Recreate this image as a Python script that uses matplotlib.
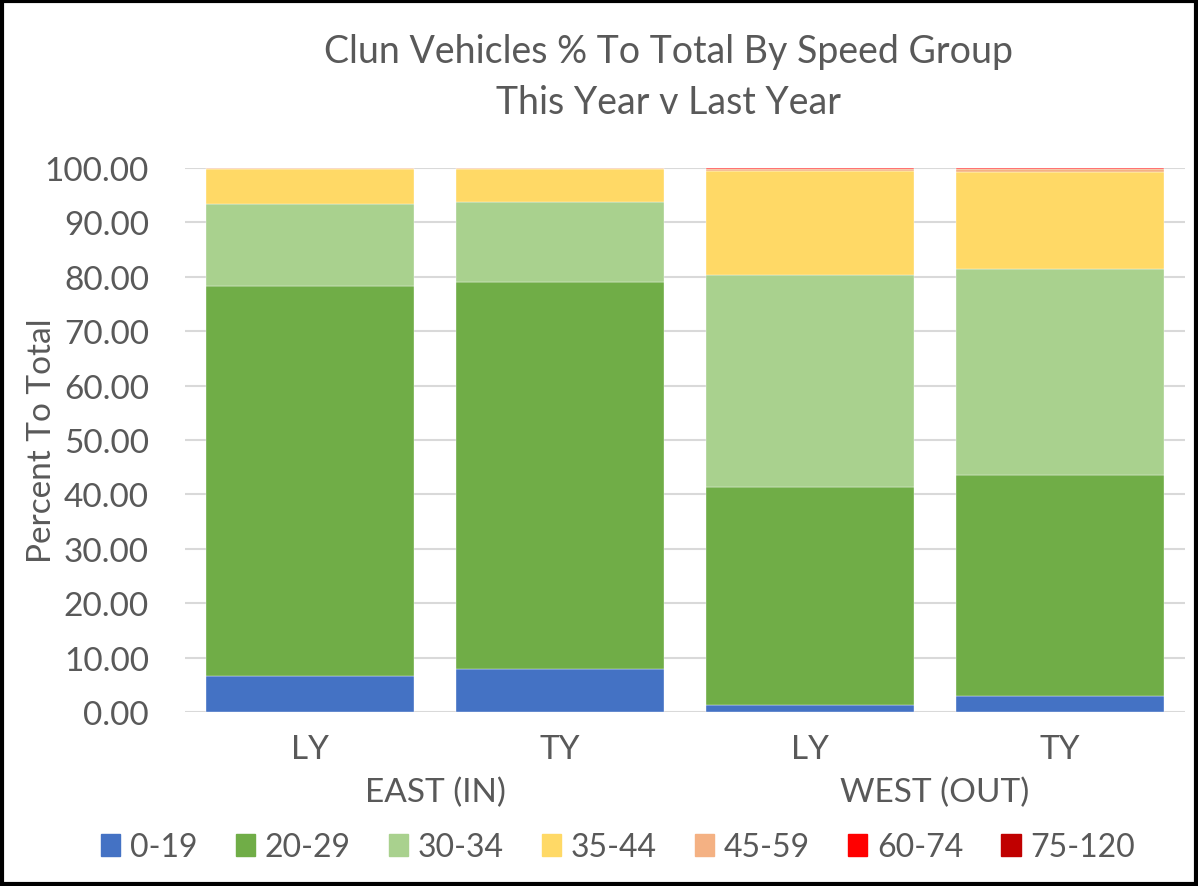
import numpy as np
import matplotlib.pyplot as plt
from matplotlib.patches import Rectangle
from matplotlib.transforms import blended_transform_factory

plt.rcParams['font.family'] = ['Lato', 'DejaVu Sans']

bar_labels = ["LY", "TY", "LY", "TY"]
groups = ["EAST (IN)", "WEST (OUT)"]
speed_groups = ["0-19", "20-29", "30-34", "35-44", "45-59", "60-74", "75-120"]
colors = ["#4472C4", "#70AD47", "#A9D18E", "#FFD966", "#F4B183", "#FF0000", "#C00000"]

# percent of total per speed group, one row per bar (EAST LY, EAST TY, WEST LY, WEST TY)
s_0_19 = [6.6, 7.9, 1.3, 2.9]
s_20_29 = [71.7, 71.1, 40.1, 40.7]
s_30_34 = [15.1, 14.8, 38.9, 37.8]
s_35_44 = [6.35, 6.0, 19.1, 17.95]
s_45_59 = [0.2, 0.15, 0.45, 0.45]
s_60_74 = [0.03, 0.03, 0.1, 0.12]
s_75_120 = [0.02, 0.02, 0.08, 0.08]
series = [s_0_19, s_20_29, s_30_34, s_35_44, s_45_59, s_60_74, s_75_120]

txt = "#595959"
fig = plt.figure(figsize=(11.98, 8.87), dpi=100)
ax = fig.add_axes([185 / 1198, 1 - 713 / 887, 1000 / 1198, 544 / 887])

x = np.arange(len(bar_labels))
bottom = np.zeros(len(bar_labels))
for vals, c, name in zip(series, colors, speed_groups):
    ax.bar(x, vals, 0.83, bottom=bottom, color=c, label=name, zorder=3,
           edgecolor="white", linewidth=0.25)
    bottom += np.array(vals)

ax.set_xlim(-0.5, 3.5)
ax.set_ylim(0, 100)
ax.set_yticks(np.arange(0, 101, 10))
ax.set_yticklabels([f"{v:.2f}" for v in range(0, 101, 10)], fontsize=24, color=txt)
ax.yaxis.grid(True, color="#D9D9D9", linewidth=1.5, zorder=0)
ax.set_axisbelow(True)
for s in ax.spines.values():
    s.set_visible(False)
ax.tick_params(axis="both", length=0)
ax.tick_params(axis="y", pad=26)
ax.set_xticks(x)
ax.set_xticklabels(bar_labels, fontsize=24, color=txt)
ax.tick_params(axis="x", pad=16)
ax.set_ylabel("Percent To Total", fontsize=24, color=txt)
ax.yaxis.set_label_coords(-0.128, 0.5)

trans = blended_transform_factory(ax.transData, fig.transFigure)
for i, g in enumerate(groups):
    ax.text(2 * i + 0.5, 1 - 793 / 887, g, transform=trans, ha="center", va="center",
            fontsize=24, color=txt)

fig.text(668 / 1198, 1 - 52 / 887, "Clun Vehicles % To Total By Speed Group",
         ha="center", va="center", fontsize=27, color=txt)
fig.text(668 / 1198, 1 - 103 / 887, "This Year v Last Year",
         ha="center", va="center", fontsize=27, color=txt)

handles = [Rectangle((0, 0), 1, 1, color=c) for c in colors]
fig.legend(handles, speed_groups, loc="center", bbox_to_anchor=(618 / 1198, 1 - 848 / 887),
           ncol=7, frameon=False, fontsize=23, labelcolor=txt, handlelength=0.6,
           handleheight=0.7, handletextpad=0.3, columnspacing=1.2)

fig.add_artist(Rectangle((0.002, 0.002), 0.996, 0.996, transform=fig.transFigure,
                         fill=False, edgecolor="black", linewidth=3))

fig.savefig("out.png", dpi=100)
